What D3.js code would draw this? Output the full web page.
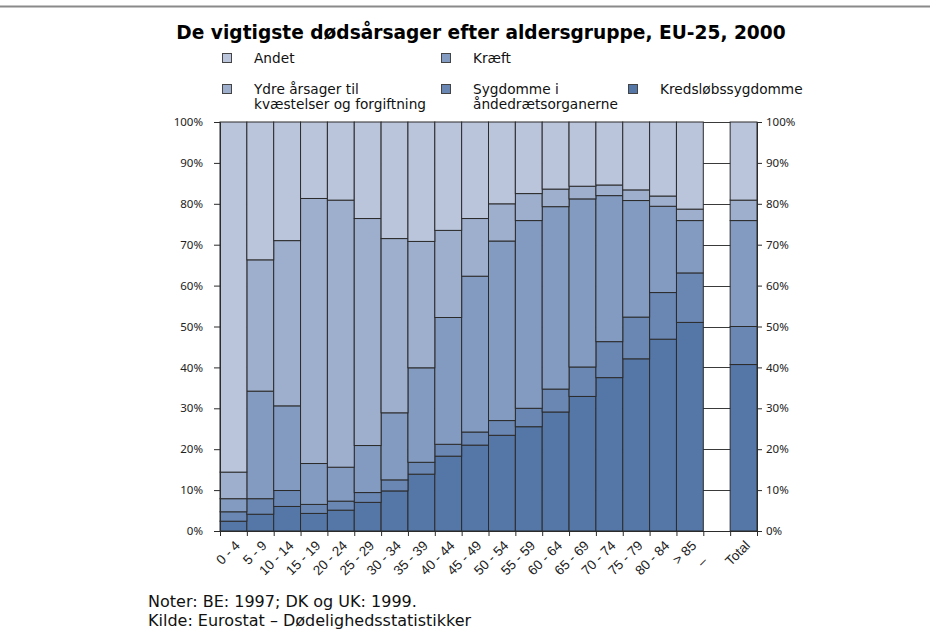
<!DOCTYPE html>
<html>
<head>
<meta charset="utf-8">
<script src="https://cdn.jsdelivr.net/npm/d3@7"></script>
<style>
  html, body { margin: 0; padding: 0; background: #fff; }
  svg { display: block; }
</style>
</head>
<body>
<svg id="chart" width="930" height="635"></svg>
<script>
// Age groups; the empty column separates the age groups from the total
const categories = ["0 - 4", "5 - 9", "10 - 14", "15 - 19", "20 - 24", "25 - 29", "30 - 34",
  "35 - 39", "40 - 44", "45 - 49", "50 - 54", "55 - 59", "60 - 64", "65 - 69", "70 - 74",
  "75 - 79", "80 - 84", "> 85", "–", "Total"];

// Share of deaths (%) per cause, bottom to top of each column
const kredsloeb = [2.4, 4.1, 6.0, 4.3, 5.1, 7.0, 9.8, 13.9, 18.3, 21.0, 23.4, 25.5, 29.1, 32.9, 37.5, 42.1, 46.9, 51.0, null, 40.7];
const aandedraet = [2.3, 3.8, 3.9, 2.2, 2.2, 2.4, 2.7, 2.9, 2.9, 3.2, 3.6, 4.5, 5.6, 7.2, 8.8, 10.2, 11.4, 12.1, null, 9.3];
const kraeft = [3.2, 26.3, 20.7, 10.0, 8.3, 11.5, 16.4, 23.1, 31.0, 38.1, 43.9, 45.9, 44.6, 41.1, 35.7, 28.5, 21.1, 12.8, null, 25.9];
const ydre = [6.5, 32.1, 40.4, 64.8, 65.3, 55.5, 42.6, 30.9, 21.3, 14.1, 9.1, 6.6, 4.3, 3.1, 2.6, 2.6, 2.5, 2.8, null, 5.0];
const andet = [85.6, 33.7, 29.0, 18.7, 19.1, 23.6, 28.5, 29.2, 26.5, 23.6, 20.0, 17.5, 16.4, 15.7, 15.4, 16.6, 18.1, 21.3, null, 19.1];

const seriesKeys = ["kredsloeb", "aandedraet", "kraeft", "ydre", "andet"];
const seriesValues = { kredsloeb, aandedraet, kraeft, ydre, andet };
const seriesColors = { kredsloeb: "#5577a8", aandedraet: "#6a87b4", kraeft: "#839bc0", ydre: "#9eafcd", andet: "#bac5dc" };

const yTicks = [0, 10, 20, 30, 40, 50, 60, 70, 80, 90, 100];

// Legend entries in reading order
const legendLabels = [
  { key: "andet", lines: ["Andet"] },
  { key: "kraeft", lines: ["Kræft"] },
  { key: "ydre", lines: ["Ydre årsager til", "kvæstelser og forgiftning"] },
  { key: "aandedraet", lines: ["Sygdomme i", "åndedrætsorganerne"] },
  { key: "kredsloeb", lines: ["Kredsløbssygdomme"] }
];

const titleText = "De vigtigste dødsårsager efter aldersgruppe, EU-25, 2000";
const noteLines = ["Noter: BE: 1997; DK og UK: 1999.", "Kilde: Eurostat – Dødelighedsstatistikker"];

// ---- layout ----
const plot = { left: 220, right: 757, top: 122, bottom: 531 };
const verdana = "'DejaVu Sans', Verdana, sans-serif";
const tickFont = "'Noto Sans', 'Open Sans', sans-serif";
const arial = "'Liberation Sans', Arial, sans-serif";
const ink = "#2b2b2b";

const svg = d3.select("#chart");
svg.append("rect").attr("width", 930).attr("height", 635).attr("fill", "#fff");

// thin rule across the top of the page
svg.append("line").attr("x1", 0).attr("x2", 930).attr("y1", 6.5).attr("y2", 6.5)
  .attr("stroke", "#8a8a8a").attr("stroke-width", 2);

svg.append("text").attr("x", 481).attr("y", 39).attr("text-anchor", "middle")
  .attr("font-family", verdana).attr("font-weight", "bold").attr("font-size", 18.6)
  .attr("fill", "#000").text(titleText);

// ---- scales ----
const x = d3.scaleBand().domain(categories).range([plot.left, plot.right]).padding(0);
const y = d3.scaleLinear().domain([0, 100]).range([plot.bottom, plot.top]);
const xEdges = d3.scaleLinear().domain([0, categories.length]).range([plot.left, plot.right]);

// gridlines sit behind the columns and show only in the empty one
svg.append("g").selectAll("line").data(yTicks.filter(d => d > 0)).join("line")
  .attr("x1", plot.left).attr("x2", plot.right)
  .attr("y1", d => Math.round(y(d)) + 0.5).attr("y2", d => Math.round(y(d)) + 0.5)
  .attr("stroke", "#3a3a3a").attr("stroke-width", 1);

// ---- stacked columns ----
const rows = categories.map((c, i) => {
  const r = { cat: c, empty: kredsloeb[i] === null };
  seriesKeys.forEach(k => { r[k] = seriesValues[k][i] ?? 0; });
  return r;
});
const stacked = d3.stack().keys(seriesKeys)(rows);

svg.append("g").selectAll("g").data(stacked).join("g")
  .attr("fill", d => seriesColors[d.key])
  .selectAll("rect").data(d => d.filter(p => !p.data.empty)).join("rect")
  .attr("x", d => x(d.data.cat))
  .attr("width", x.bandwidth())
  .attr("y", d => y(d[1]))
  .attr("height", d => y(d[0]) - y(d[1]))
  .attr("stroke", ink).attr("stroke-width", 1);

// ---- axes ----
const leftAxis = svg.append("g").attr("transform", `translate(${plot.left},0)`)
  .call(d3.axisLeft(y).tickValues(yTicks).tickFormat(d => d + "%").tickSize(6).tickPadding(11));
const rightAxis = svg.append("g").attr("transform", `translate(${plot.right},0)`)
  .call(d3.axisRight(y).tickValues(yTicks).tickFormat(d => d + "%").tickSize(5).tickPadding(4));
[leftAxis, rightAxis].forEach(g => {
  g.selectAll("path, line").attr("stroke", ink);
  g.selectAll("text").attr("font-family", tickFont).attr("font-size", 11.5).attr("fill", "#222");
});

const bottomAxis = svg.append("g").attr("transform", `translate(0,${plot.bottom})`)
  .call(d3.axisBottom(xEdges).tickValues(d3.range(categories.length + 1)).tickFormat("").tickSize(5));
bottomAxis.selectAll("path, line").attr("stroke", ink);

// rotated category labels
svg.append("g").selectAll("text").data(categories).join("text")
  .attr("transform", d => `translate(${x(d) + x.bandwidth() / 2 + 4},${plot.bottom + 12}) rotate(-45)`)
  .attr("text-anchor", "end")
  .attr("dy", "0.35em")
  .attr("font-family", arial).attr("font-size", 13.5).attr("fill", "#222")
  .text(d => d === "–" ? d + "\u00A0\u00A0\u00A0\u00A0\u00A0\u00A0" : d);

// ---- legend ----
const legendPos = [[227, 58], [446, 58], [227, 89], [446, 89], [633, 89]];
const legend = svg.append("g").selectAll("g").data(legendLabels).join("g")
  .attr("transform", (d, i) => `translate(${legendPos[i][0]},${legendPos[i][1]})`);
legend.append("rect").attr("x", -4.5).attr("y", -4.5).attr("width", 9).attr("height", 9)
  .attr("fill", d => seriesColors[d.key]).attr("stroke", "#444").attr("stroke-width", 1);
legend.append("text").attr("x", 27).attr("y", 5)
  .attr("font-family", verdana).attr("font-size", 13.7).attr("fill", "#111")
  .selectAll("tspan").data(d => d.lines).join("tspan")
  .attr("x", 27).attr("dy", (d, i) => i === 0 ? 0 : 15).text(d => d);

// ---- notes ----
svg.append("text").attr("font-family", verdana).attr("font-size", 16).attr("fill", "#111")
  .selectAll("tspan").data(noteLines).join("tspan")
  .attr("x", 148).attr("y", (d, i) => 607 + i * 18.5).text(d => d);
</script>
</body>
</html>
